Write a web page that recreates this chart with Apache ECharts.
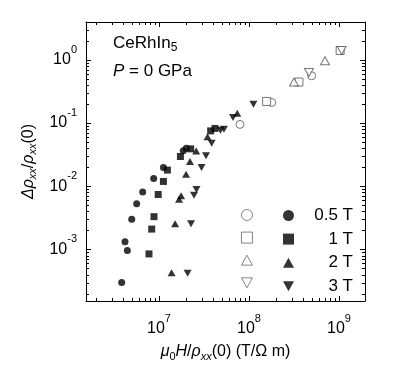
<!DOCTYPE html>
<html><head><meta charset="utf-8">
<script src="https://cdn.jsdelivr.net/npm/echarts@6/dist/echarts.min.js"></script>
<style>html,body{margin:0;padding:0;background:#fff}#c{width:409px;height:371px}</style>
</head><body><div id="c"></div>
<script>
// ---- data ----
const fieldLabels = ['0.5 T', '1 T', '2 T', '3 T'];

const circleFilledX = [3.85e6, 4.19e6, 4.45e6, 4.98e6, 5.65e6, 6.59e6, 8.73e6, 1.12e7, 1.86e7, 2.01e7];
const circleFilledY = [3.0e-4, 1.33e-3, 9.6e-4, 3.0e-3, 5.27e-3, 8.07e-3, 1.33e-2, 1.98e-2, 3.63e-2, 3.98e-2];
const circleOpenX = [7.94e7, 1.79e8, 4.97e8];
const circleOpenY = [0.095, 0.211, 0.558];

const squareFilledX = [7.74e6, 8.3e6, 8.8e6, 9.8e6, 1.12e7, 1.24e7, 1.73e7, 2.25e7, 3.75e7, 4.19e7];
const squareFilledY = [8.5e-4, 2.1e-3, 3.3e-3, 7.4e-3, 1.19e-2, 1.8e-2, 2.95e-2, 3.9e-2, 7.5e-2, 8.2e-2];
const squareOpenX = [1.57e8, 3.59e8, 1.03e9];
const squareOpenY = [0.219, 0.444, 1.40];

const triUpFilledX = [1.38e7, 1.51e7, 1.67e7, 1.76e7, 2.0e7, 2.21e7, 2.59e7, 3.46e7, 7.41e7];
const triUpFilledY = [4.3e-4, 2.54e-3, 6.2e-3, 7.1e-3, 1.55e-2, 2.46e-2, 3.59e-2, 6.05e-2, 0.143];
const triUpOpenX = [3.16e8, 6.99e8];
const triUpOpenY = [0.444, 0.964];

const triDownFilledX = [2.08e7, 2.27e7, 2.45e7, 2.61e7, 2.97e7, 3.33e7, 3.85e7, 4.82e7, 5.27e7, 6.64e7, 1.12e8];
const triDownFilledY = [4.2e-4, 2.54e-3, 7.2e-3, 8.9e-3, 1.98e-2, 3.03e-2, 4.77e-2, 7.66e-2, 7.95e-2, 0.122, 0.198];
const triDownOpenX = [4.64e8, 1.07e9];
const triDownOpenY = [0.63, 1.40];

const xExtent = [Math.pow(10, 6.189), Math.pow(10, 9.289)];
const yExtent = [Math.pow(10, -3.815), Math.pow(10, 0.597)];

// ---- build ----
const FONT = '"Liberation Sans", Arial, Helvetica, sans-serif';
const openColor = '#555555';
const downPath = 'path://M0,0 L10,0 L5,9 Z';
const upPath = 'path://M5,0 L10,9 L0,9 Z';
const zip = (xs, ys) => xs.map((x, i) => [x, ys[i]]);

function scatter(name, xs, ys, symbol, size, open) {
  return {
    type: 'scatter', name, data: zip(xs, ys), symbol, symbolSize: size,
    itemStyle: open ? { color: '#fff', borderColor: openColor, borderWidth: 1 } : { color: '#000', borderWidth: 0 },
    z: open ? 3 : 4, silent: true, animation: false
  };
}

const series = [
  scatter('o0.5', circleOpenX, circleOpenY, 'circle', 8, true),
  scatter('o1', squareOpenX, squareOpenY, 'rect', 8, true),
  scatter('o2', triUpOpenX, triUpOpenY, upPath, [9, 8], true),
  scatter('o3', triDownOpenX, triDownOpenY, downPath, [9, 8], true),
  scatter(fieldLabels[0], circleFilledX, circleFilledY, 'circle', 7, false),
  scatter(fieldLabels[1], squareFilledX, squareFilledY, 'rect', 7, false),
  scatter(fieldLabels[2], triUpFilledX, triUpFilledY, upPath, [8, 7], false),
  scatter(fieldLabels[3], triDownFilledX, triDownFilledY, downPath, [8, 7], false)
];

// minor ticks
const minorX = [], minorY = [];
for (let e = 5; e <= 9; e++) for (let m = 2; m <= 9; m++) {
  const v = m * Math.pow(10, e);
  if (v > xExtent[0] && v < xExtent[1]) minorX.push(v);
}
for (let e = -5; e <= 0; e++) for (let m = 2; m <= 9; m++) {
  const v = m * Math.pow(10, e);
  if (v > yExtent[0] && v < yExtent[1]) minorY.push(v);
}
const tickStyle = { stroke: '#000', lineWidth: 1 };
series.push({
  type: 'custom', silent: true, animation: false, z: 5,
  data: minorX.map(v => [v, yExtent[0]]), encode: { x: 0, y: 1 },
  renderItem(params, api) {
    const cs = params.coordSys;
    const px = Math.round(api.coord([api.value(0), yExtent[0]])[0]) + 0.5;
    const b = cs.y + cs.height;
    return { type: 'group', children: [
      { type: 'line', shape: { x1: px, y1: b, x2: px, y2: b - 3 }, style: tickStyle },
      { type: 'line', shape: { x1: px, y1: cs.y, x2: px, y2: cs.y + 3 }, style: tickStyle }
    ]};
  }
});
series.push({
  type: 'custom', silent: true, animation: false, z: 5,
  data: minorY.map(v => [xExtent[0], v]), encode: { x: 0, y: 1 },
  renderItem(params, api) {
    const cs = params.coordSys;
    const py = Math.round(api.coord([xExtent[0], api.value(1)])[1]) + 0.5;
    const r = cs.x + cs.width;
    return { type: 'group', children: [
      { type: 'line', shape: { x1: cs.x, y1: py, x2: cs.x + 3, y2: py }, style: tickStyle },
      { type: 'line', shape: { x1: r, y1: py, x2: r - 3, y2: py }, style: tickStyle }
    ]};
  }
});

function expLabel(v) {
  const e = Math.log10(v);
  const r = Math.round(e);
  if (Math.abs(e - r) > 1e-6) return '';
  return '{b|10}{s|' + r + '}';
}
const labelRich = {
  b: { fontSize: 16, fontFamily: FONT, color: '#000' },
  s: { fontSize: 11, fontFamily: FONT, color: '#000', padding: [0, 0, 20, 0] }
};
const axisCommon = {
  type: 'log', logBase: 10,
  axisLine: { show: true, lineStyle: { color: '#000', width: 1 } },
  axisTick: { show: true, inside: true, length: 5, lineStyle: { color: '#000' } },
  splitLine: { show: false },
  minorTick: { show: false }
};
const nameRich = {
  n: { fontSize: 16, fontFamily: FONT, color: '#000' },
  i: { fontSize: 16, fontFamily: FONT, color: '#000', fontStyle: 'italic' },
  sub: { fontSize: 11, fontFamily: FONT, color: '#000', fontStyle: 'italic', padding: [9, 0, 0, 0] },
  subn: { fontSize: 11, fontFamily: FONT, color: '#000', padding: [9, 0, 0, 0] }
};

const option = {
  backgroundColor: '#fff',
  animation: false,
  textStyle: { fontFamily: FONT },
  grid: { left: 86, top: 22, width: 279, height: 279, containLabel: false },
  title: [
    { text: '{a|CeRhIn}{s|5}', left: 113, top: 33, padding: 0,
      textStyle: { fontWeight: 'normal', rich: {
        a: { fontSize: 17, fontFamily: FONT, color: '#000', fontWeight: 'normal' },
        s: { fontSize: 12, fontFamily: FONT, color: '#000', fontWeight: 'normal', padding: [9, 0, 0, 0] } } } },
    { text: '{i|P}{a| = 0 GPa}', left: 113, top: 63, padding: 0,
      textStyle: { fontWeight: 'normal', rich: {
        a: { fontSize: 17, fontFamily: FONT, color: '#000', fontWeight: 'normal' },
        i: { fontSize: 17, fontFamily: FONT, color: '#000', fontWeight: 'normal', fontStyle: 'italic' } } } }
  ],
  legend: [
    { data: ['o0.5', 'o1', 'o2', 'o3'], orient: 'vertical', left: 236, top: 202,
      itemWidth: 11, itemHeight: 11, itemGap: 6.6, selectedMode: false,
      itemStyle: { borderWidth: 0.9 },
      formatter: () => ' ', textStyle: { fontSize: 16, lineHeight: 11 } },
    { data: fieldLabels, orient: 'vertical', left: 278, top: 202,
      itemWidth: 11, itemHeight: 11, itemGap: 6.6, selectedMode: false,
      formatter: n => '{r|' + n + '}',
      textStyle: { fontSize: 17, lineHeight: 11, color: '#000',
        rich: { r: { width: 54, align: 'right', fontSize: 17, fontFamily: FONT, color: '#000', lineHeight: 11 } } } }
  ],
  xAxis: [
    Object.assign({}, axisCommon, {
      position: 'bottom', min: xExtent[0], max: xExtent[1],
      axisLabel: { formatter: expLabel, rich: labelRich, margin: 12, showMinLabel: false, showMaxLabel: false },
      name: '{i|μ}{subn|0}{i|H}{n|/}{i|ρ}{sub|xx}{n|(0) (T/Ω m)}',
      nameLocation: 'middle', nameGap: 41,
      nameTextStyle: { rich: nameRich, fontSize: 16, color: '#000' }
    }),
    Object.assign({}, axisCommon, {
      position: 'top', min: xExtent[0], max: xExtent[1], axisLabel: { show: false }
    })
  ],
  yAxis: [
    Object.assign({}, axisCommon, {
      position: 'left', min: yExtent[0], max: yExtent[1],
      axisLabel: { formatter: expLabel, rich: labelRich, margin: 9, showMinLabel: false, showMaxLabel: false },
      name: '{i|Δρ}{sub|xx}{n|/}{i|ρ}{sub|xx}{n|(0)}',
      nameLocation: 'middle', nameGap: 46, nameRotate: 90,
      nameTextStyle: { rich: nameRich, fontSize: 16, color: '#000' }
    }),
    Object.assign({}, axisCommon, {
      position: 'right', min: yExtent[0], max: yExtent[1], axisLabel: { show: false }
    })
  ],
  series
};
const chart = echarts.init(document.getElementById('c'), null, { renderer: 'canvas' });
chart.setOption(option);
</script>
</body></html>
